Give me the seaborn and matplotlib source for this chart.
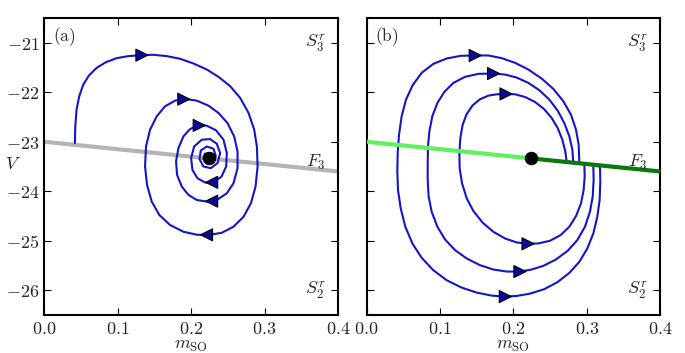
import numpy as np
import pandas as pd
import seaborn as sns
import matplotlib
matplotlib.use("Agg")
import matplotlib.pyplot as plt

sns.set_style("ticks")
plt.rcParams["mathtext.fontset"] = "cm"
plt.rcParams["font.family"] = ["DejaVu Serif"]

# panel (a): spiral towards the focus
spiral_x = [0.0418, 0.0423, 0.0441, 0.0477, 0.0532, 0.0609, 0.0714, 0.0841, 0.0986, 0.1145,
            0.1327, 0.1486, 0.1668, 0.1850, 0.2032, 0.2214, 0.2373, 0.2532, 0.2668, 0.2782,
            0.2859, 0.2895, 0.2905, 0.2877, 0.2814, 0.2714, 0.2577, 0.2418, 0.2236, 0.2077,
            0.1895, 0.1714, 0.1568, 0.1464, 0.1400, 0.1373, 0.1386, 0.1441, 0.1532, 0.1645,
            0.1782, 0.1918, 0.2077, 0.2236, 0.2373, 0.2495, 0.2586, 0.2632, 0.2632, 0.2577,
            0.2486, 0.2350, 0.2214, 0.2077, 0.1964, 0.1873, 0.1809, 0.1795, 0.1827, 0.1895,
            0.1986, 0.2100, 0.2214, 0.2341, 0.2441, 0.2486, 0.2477, 0.2414, 0.2305, 0.2191,
            0.2086, 0.2018, 0.2000, 0.2041, 0.2145, 0.2259, 0.2350, 0.2395, 0.2359, 0.2268,
            0.2168, 0.2114, 0.2132, 0.2214, 0.2305, 0.2336, 0.2305, 0.2214, 0.2168, 0.2186,
            0.2250, 0.2268]
spiral_y = [-23.027, -22.689, -22.351, -22.081, -21.845, -21.662, -21.507, -21.392, -21.311, -21.270,
            -21.250, -21.243, -21.270, -21.324, -21.419, -21.541, -21.689, -21.878, -22.115, -22.419,
            -22.757, -23.095, -23.500, -23.905, -24.243, -24.514, -24.716, -24.838, -24.885, -24.878,
            -24.818, -24.682, -24.480, -24.209, -23.872, -23.500, -23.095, -22.757, -22.486, -22.284,
            -22.169, -22.135, -22.169, -22.270, -22.419, -22.622, -22.892, -23.196, -23.534, -23.838,
            -24.041, -24.176, -24.209, -24.176, -24.074, -23.905, -23.669, -23.399, -23.128, -22.892,
            -22.743, -22.669, -22.676, -22.770, -22.959, -23.230, -23.500, -23.703, -23.824, -23.824,
            -23.736, -23.568, -23.331, -23.095, -22.959, -22.946, -23.041, -23.230, -23.432, -23.534,
            -23.500, -23.351, -23.176, -23.095, -23.142, -23.284, -23.399, -23.432, -23.351, -23.243,
            -23.230, -23.297]
arrows_a_x = [0.133, 0.190, 0.211, 0.221, 0.228, 0.228]
arrows_a_y = [-21.25, -22.14, -22.67, -24.88, -24.20, -23.82]
arrows_a_dir = ["right", "right", "right", "left", "left", "left"]

# panel (b): three closed orbits
inner_x = [0.1895, 0.2023, 0.2159, 0.2295, 0.2418, 0.2523, 0.2605, 0.2668, 0.2709, 0.2727,
           0.2968, 0.2973, 0.2959, 0.2923, 0.2855, 0.2764, 0.2645, 0.2500, 0.2341, 0.2205,
           0.2045, 0.1886, 0.1727, 0.1582, 0.1455, 0.1364, 0.1300, 0.1268, 0.1264, 0.1277,
           0.1309, 0.1364, 0.1445, 0.1545, 0.1659, 0.1773, 0.1895]
inner_y = [-22.034, -22.041, -22.095, -22.196, -22.338, -22.520, -22.723, -22.959, -23.196, -23.405,
           -23.446, -23.703, -23.973, -24.243, -24.500, -24.716, -24.885, -25.000, -25.054, -25.061,
           -25.034, -24.953, -24.818, -24.635, -24.399, -24.142, -23.838, -23.534, -23.230, -22.926,
           -22.655, -22.439, -22.264, -22.142, -22.068, -22.041, -22.034]
middle_x = [0.1727, 0.1886, 0.2045, 0.2205, 0.2355, 0.2491, 0.2605, 0.2695, 0.2764, 0.2805,
            0.2818, 0.3091, 0.3095, 0.3082, 0.3045, 0.2977, 0.2873, 0.2741, 0.2582, 0.2409,
            0.2250, 0.2091, 0.1909, 0.1727, 0.1545, 0.1364, 0.1205, 0.1068, 0.0964, 0.0886,
            0.0845, 0.0832, 0.0832, 0.0836, 0.0855, 0.0895, 0.0964, 0.1059, 0.1182, 0.1341,
            0.1523, 0.1727]
middle_y = [-21.622, -21.642, -21.703, -21.811, -21.959, -22.149, -22.372, -22.622, -22.892, -23.162,
            -23.432, -23.473, -23.770, -24.108, -24.412, -24.716, -24.986, -25.203, -25.378, -25.507,
            -25.581, -25.622, -25.622, -25.581, -25.493, -25.358, -25.189, -24.973, -24.716, -24.412,
            -24.108, -23.770, -23.432, -23.095, -22.791, -22.486, -22.216, -21.993, -21.811, -21.689,
            -21.628, -21.622]
outer_x = [0.1477, 0.1659, 0.1841, 0.2023, 0.2205, 0.2386, 0.2545, 0.2682, 0.2786, 0.2855,
           0.2891, 0.2900, 0.3182, 0.3186, 0.3177, 0.3145, 0.3091, 0.3009, 0.2900, 0.2764,
           0.2600, 0.2418, 0.2227, 0.2045, 0.1886, 0.1705, 0.1500, 0.1295, 0.1091, 0.0909,
           0.0750, 0.0623, 0.0527, 0.0464, 0.0427, 0.0418, 0.0423, 0.0441, 0.0477, 0.0536,
           0.0627, 0.0750, 0.0909, 0.1091, 0.1282, 0.1477]
outer_y = [-21.257, -21.257, -21.311, -21.405, -21.541, -21.723, -21.932, -22.182, -22.453, -22.757,
           -23.061, -23.432, -23.500, -23.804, -24.176, -24.514, -24.851, -25.155, -25.426, -25.649,
           -25.838, -25.980, -26.068, -26.115, -26.128, -26.108, -26.047, -25.946, -25.797, -25.595,
           -25.345, -25.054, -24.716, -24.345, -23.973, -23.601, -23.230, -22.858, -22.486, -22.149,
           -21.858, -21.608, -21.426, -21.318, -21.264, -21.257]
arrows_b_x = [0.148, 0.173, 0.190, 0.220, 0.209, 0.189]
arrows_b_y = [-21.257, -21.622, -22.034, -25.061, -25.622, -26.128]
arrows_b_dir = ["right"] * 6

# switching line F3 and the focus
line_x = [0.0, 0.224, 0.4]
line_y = [-23.0, -23.336, -23.6]
focus_x = [0.224]
focus_y = [-23.33]

blue = "#1515c8"
fig = plt.figure(figsize=(6.85, 3.53), dpi=100)
ax_a = fig.add_axes([0.0645, 0.1076, 0.4290, 0.8414])
ax_b = fig.add_axes([0.5353, 0.1076, 0.4282, 0.8414])


def arrows(ax, xs, ys, dirs):
    df = pd.DataFrame({"x": xs, "y": ys, "d": dirs})
    sns.scatterplot(data=df, x="x", y="y", style="d",
                    markers={"right": ">", "left": "<"}, s=75,
                    color="#0a0a9a", edgecolor="black", linewidth=0.8,
                    legend=False, zorder=5, ax=ax)


# (a)
sns.lineplot(x=line_x, y=line_y, sort=False, estimator=None, color="#b4b4b4",
             lw=3, ax=ax_a, zorder=2)
sns.lineplot(x=spiral_x, y=spiral_y, sort=False, estimator=None, color=blue,
             lw=1.5, ax=ax_a, zorder=3)
arrows(ax_a, arrows_a_x, arrows_a_y, arrows_a_dir)

# (b)
for ox, oy in [(inner_x, inner_y), (middle_x, middle_y), (outer_x, outer_y)]:
    sns.lineplot(x=ox, y=oy, sort=False, estimator=None, color=blue, lw=1.5,
                 ax=ax_b, zorder=2)
sns.lineplot(x=line_x[:2], y=line_y[:2], sort=False, estimator=None,
             color="#5ef05e", lw=3, ax=ax_b, zorder=3)
sns.lineplot(x=line_x[1:], y=line_y[1:], sort=False, estimator=None,
             color="#0a780a", lw=3, ax=ax_b, zorder=3)
arrows(ax_b, arrows_b_x, arrows_b_y, arrows_b_dir)

for ax, tag in [(ax_a, "(a)"), (ax_b, "(b)")]:
    sns.scatterplot(x=focus_x, y=focus_y, color="black", s=80, zorder=6,
                    edgecolor="black", ax=ax, legend=False)
    ax.set_xlim(0, 0.4)
    ax.set_ylim(-26.5, -20.5)
    ax.set_xticks([0.0, 0.1, 0.2, 0.3, 0.4])
    ax.set_xticklabels([r"$%.1f$" % v for v in [0.0, 0.1, 0.2, 0.3, 0.4]])
    ax.set_yticks([-26, -25, -24, -23, -22, -21])
    ax.tick_params(direction="in", length=5, width=0.8, top=True, right=True,
                   labelsize=13, pad=3.5, color="black")
    for sp in ax.spines.values():
        sp.set_linewidth(1.5)
        sp.set_color("black")
    ax.set_xlabel(r"$m_{\rm SO}$", fontsize=13, labelpad=-1)
    ax.set_ylabel("")
    ax.text(0.012, -20.88, r"$\mathrm{" + tag + "}$", fontsize=12.5,
            ha="left", va="center")
    ax.text(0.383, -21.0, r"$S_3^r$", fontsize=13, ha="right", va="center")
    ax.text(0.383, -26.0, r"$S_2^r$", fontsize=13, ha="right", va="center")
    ax.text(0.383, -23.42, r"$F_3$", fontsize=13, ha="right", va="center")

ax_a.set_yticklabels([r"$%d$" % v for v in [-26, -25, -24, -23, -22, -21]])
ax_b.set_yticklabels([])
ax_a.set_ylabel(r"$V$", fontsize=13, rotation=0, va="center", ha="center")
ax_a.yaxis.set_label_coords(-0.105, 0.51)

fig.savefig("out.png", dpi=100)
